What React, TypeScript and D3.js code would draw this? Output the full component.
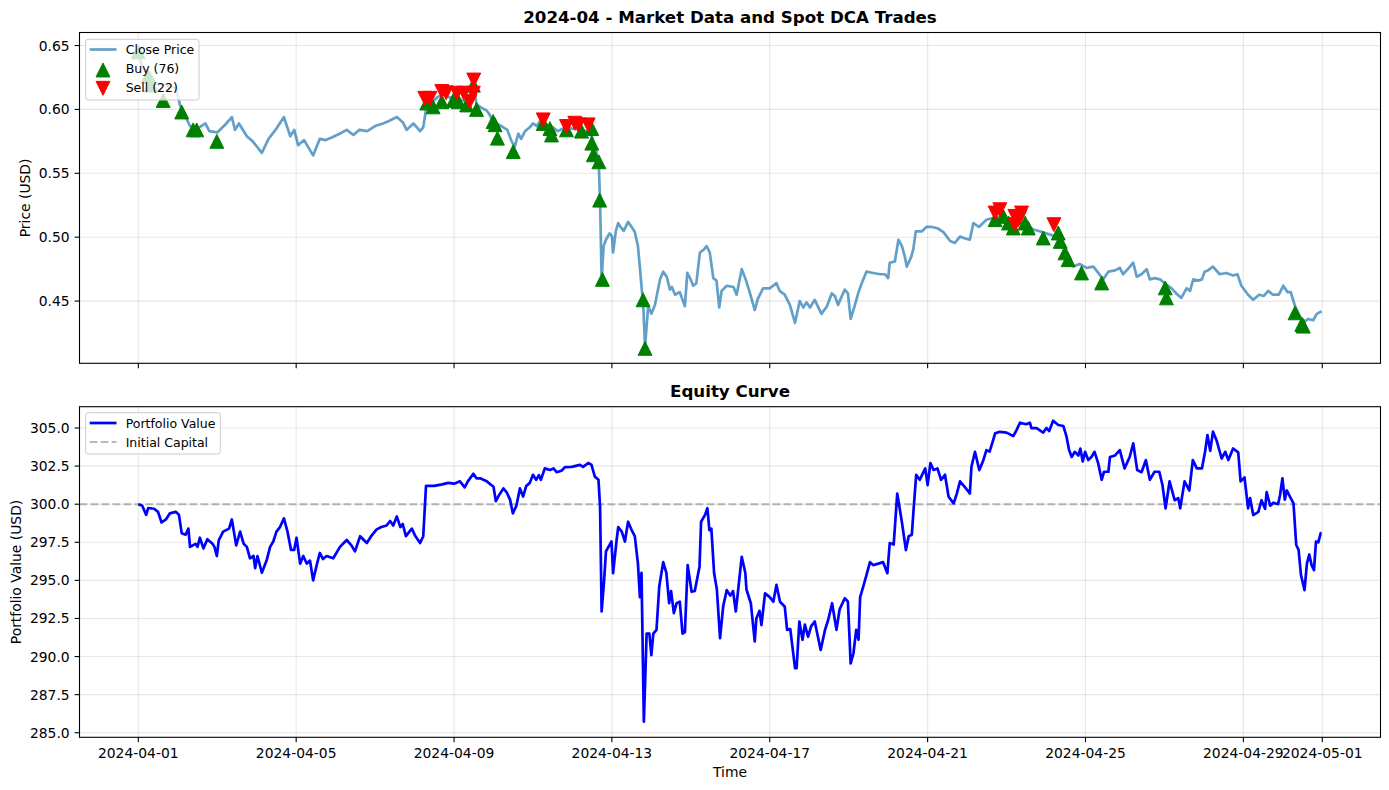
import React from 'react';
import * as d3 from 'd3';

// [day offset from 2024-04-01 00:00, value]
const closePrice: [number, number][] = [
  [0, 0.643], [0.12, 0.632], [0.3, 0.628], [0.45, 0.62], [0.7, 0.619], [0.95, 0.617], [1.06, 0.603], [1.2, 0.594],
  [1.31, 0.587], [1.5, 0.585], [1.7, 0.589], [1.8, 0.583], [2.0, 0.582], [2.2, 0.588], [2.37, 0.594], [2.45, 0.584],
  [2.55, 0.589], [2.75, 0.579], [2.9, 0.575], [3.13, 0.566], [3.3, 0.577], [3.5, 0.585], [3.69, 0.594], [3.85, 0.579],
  [3.95, 0.584], [4.05, 0.572], [4.2, 0.576], [4.43, 0.564], [4.6, 0.577], [4.75, 0.576], [4.9, 0.578], [5.1, 0.581],
  [5.28, 0.584], [5.45, 0.58], [5.6, 0.584], [5.8, 0.583], [6.0, 0.587], [6.2, 0.589], [6.35, 0.591], [6.55, 0.594],
  [6.7, 0.59], [6.8, 0.584], [6.97, 0.589], [7.14, 0.583], [7.22, 0.586], [7.31, 0.604], [7.45, 0.606], [7.6, 0.61],
  [7.75, 0.612], [7.9, 0.609], [8.05, 0.611], [8.2, 0.607], [8.35, 0.606], [8.49, 0.62], [8.57, 0.604], [8.66, 0.602],
  [8.83, 0.599], [8.9, 0.596], [9.0, 0.59], [9.13, 0.588], [9.25, 0.586], [9.35, 0.584], [9.46, 0.575], [9.54, 0.571],
  [9.63, 0.581], [9.7, 0.577], [9.8, 0.583], [9.92, 0.586], [10.0, 0.589], [10.1, 0.587], [10.18, 0.591], [10.35, 0.588],
  [10.5, 0.586], [10.63, 0.583], [10.75, 0.585], [10.85, 0.586], [11.0, 0.585], [11.19, 0.584], [11.36, 0.583], [11.49, 0.579],
  [11.6, 0.568], [11.67, 0.555], [11.7, 0.529], [11.74, 0.467], [11.79, 0.493], [11.85, 0.498], [11.94, 0.503], [12.0, 0.501],
  [12.03, 0.488], [12.1, 0.505], [12.16, 0.511], [12.22, 0.508], [12.3, 0.505], [12.41, 0.512], [12.5, 0.508], [12.58, 0.504],
  [12.66, 0.493], [12.71, 0.476], [12.76, 0.458], [12.79, 0.449], [12.84, 0.415], [12.92, 0.446], [13.0, 0.44], [13.09, 0.447],
  [13.22, 0.467], [13.3, 0.473], [13.39, 0.469], [13.47, 0.459], [13.52, 0.461], [13.6, 0.455], [13.72, 0.457], [13.85, 0.446],
  [13.91, 0.472], [13.98, 0.468], [14.06, 0.462], [14.14, 0.464], [14.23, 0.488], [14.32, 0.49], [14.4, 0.493], [14.48, 0.488],
  [14.57, 0.468], [14.65, 0.466], [14.72, 0.445], [14.78, 0.458], [14.91, 0.462], [15.08, 0.461], [15.16, 0.455], [15.29, 0.475],
  [15.4, 0.466], [15.5, 0.456], [15.62, 0.443], [15.7, 0.452], [15.83, 0.46], [16.0, 0.46], [16.17, 0.464], [16.25, 0.458],
  [16.38, 0.455], [16.51, 0.447], [16.64, 0.433], [16.76, 0.45], [16.85, 0.445], [16.93, 0.449], [17.02, 0.445], [17.14, 0.451],
  [17.31, 0.44], [17.45, 0.446], [17.57, 0.456], [17.65, 0.454], [17.73, 0.447], [17.9, 0.459], [17.98, 0.456], [18.05, 0.436],
  [18.15, 0.446], [18.24, 0.456], [18.33, 0.464], [18.45, 0.473], [18.62, 0.472], [18.8, 0.471], [18.92, 0.471], [19.0, 0.468],
  [19.04, 0.48], [19.17, 0.481], [19.26, 0.498], [19.35, 0.493], [19.42, 0.485], [19.47, 0.477], [19.59, 0.485], [19.64, 0.491],
  [19.7, 0.5045], [19.85, 0.5045], [19.97, 0.508], [20.1, 0.508], [20.25, 0.507], [20.4, 0.504], [20.57, 0.497], [20.69, 0.4955],
  [20.82, 0.5005], [20.95, 0.499], [21.07, 0.498], [21.16, 0.511], [21.3, 0.508], [21.49, 0.5137], [21.65, 0.515], [21.83, 0.516],
  [21.95, 0.513], [22.1, 0.512], [22.3, 0.511], [22.45, 0.511], [22.68, 0.506], [22.9, 0.504], [23.1, 0.502], [23.31, 0.5],
  [23.44, 0.493], [23.54, 0.482], [23.69, 0.477], [23.85, 0.479], [24.03, 0.476], [24.2, 0.477], [24.3, 0.473], [24.45, 0.467],
  [24.58, 0.473], [24.75, 0.474], [24.87, 0.476], [24.95, 0.471], [25.1, 0.476], [25.21, 0.48], [25.3, 0.469], [25.42, 0.471],
  [25.55, 0.475], [25.63, 0.467], [25.75, 0.468], [25.89, 0.467], [26.0, 0.464], [26.18, 0.46], [26.3, 0.456], [26.43, 0.4525],
  [26.56, 0.46], [26.65, 0.458], [26.73, 0.467], [26.85, 0.466], [26.95, 0.467], [27.02, 0.473], [27.1, 0.474], [27.23, 0.477],
  [27.4, 0.471], [27.57, 0.472], [27.74, 0.47], [27.85, 0.471], [27.95, 0.462], [28.12, 0.455], [28.25, 0.451], [28.4, 0.455],
  [28.52, 0.454], [28.63, 0.458], [28.75, 0.455], [28.9, 0.455], [29.01, 0.462], [29.12, 0.457], [29.2, 0.457], [29.31, 0.446],
  [29.43, 0.438], [29.56, 0.434], [29.64, 0.436], [29.77, 0.435], [29.86, 0.44], [29.98, 0.442],
];

const portfolioValue: [number, number][] = [
  [0, 300.0], [0.1, 299.9], [0.2, 299.3], [0.25, 299.75], [0.4, 299.7], [0.5, 299.5], [0.59, 298.8], [0.7, 299.0],
  [0.8, 299.4], [0.95, 299.5], [1.03, 299.3], [1.1, 298.1], [1.2, 298.0], [1.27, 298.4], [1.31, 297.2], [1.45, 297.4],
  [1.5, 297.2], [1.56, 297.8], [1.65, 297.1], [1.75, 297.7], [1.88, 297.4], [1.93, 297.2], [1.99, 296.6], [2.04, 297.65],
  [2.15, 298.2], [2.3, 298.4], [2.37, 299.0], [2.48, 297.3], [2.58, 298.2], [2.67, 297.4], [2.75, 297.2], [2.83, 296.45],
  [2.92, 296.6], [2.96, 295.8], [3.02, 296.6], [3.13, 295.5], [3.25, 296.3], [3.34, 297.2], [3.42, 297.55], [3.5, 298.2],
  [3.59, 298.5], [3.69, 299.07], [3.78, 298.2], [3.87, 297.0], [3.95, 297.0], [4.01, 297.8], [4.1, 296.1], [4.18, 296.6],
  [4.27, 296.1], [4.35, 296.3], [4.43, 295.0], [4.52, 296.0], [4.6, 296.8], [4.68, 296.4], [4.77, 296.6], [4.94, 296.45],
  [5.11, 297.2], [5.28, 297.65], [5.4, 297.3], [5.49, 296.9], [5.62, 297.9], [5.79, 297.45], [5.9, 297.9], [6.04, 298.35],
  [6.16, 298.5], [6.29, 298.6], [6.38, 298.9], [6.46, 298.6], [6.55, 299.2], [6.64, 298.5], [6.7, 298.7], [6.78, 297.9],
  [6.93, 298.4], [7.01, 297.95], [7.14, 297.45], [7.22, 297.9], [7.29, 301.2], [7.5, 301.2], [7.7, 301.3], [7.85, 301.4],
  [8.0, 301.35], [8.15, 301.5], [8.27, 301.1], [8.35, 301.5], [8.49, 302.0], [8.57, 301.7], [8.66, 301.7], [8.83, 301.5],
  [9.0, 301.15], [9.06, 300.2], [9.12, 300.5], [9.25, 301.04], [9.33, 300.8], [9.42, 300.3], [9.49, 299.4], [9.58, 299.9],
  [9.67, 301.04], [9.75, 300.5], [9.83, 301.2], [9.92, 301.4], [10.0, 301.93], [10.08, 301.6], [10.15, 301.9], [10.2, 301.6],
  [10.3, 302.35], [10.43, 302.25], [10.52, 302.35], [10.6, 302.1], [10.72, 302.2], [10.81, 302.43], [10.98, 302.45], [11.19, 302.58],
  [11.27, 302.45], [11.4, 302.7], [11.48, 302.6], [11.57, 301.8], [11.66, 301.6], [11.7, 299.85], [11.74, 292.96], [11.8, 294.9],
  [11.85, 296.9], [11.99, 297.55], [12.03, 295.47], [12.12, 297.65], [12.16, 298.5], [12.25, 298.2], [12.33, 297.55], [12.41, 298.85],
  [12.5, 298.3], [12.58, 297.9], [12.66, 296.1], [12.71, 293.9], [12.75, 295.5], [12.81, 285.72], [12.88, 291.5], [12.95, 291.5],
  [13.0, 290.1], [13.05, 291.5], [13.13, 291.75], [13.2, 294.6], [13.3, 296.2], [13.38, 295.5], [13.45, 293.5], [13.5, 294.3],
  [13.57, 292.85], [13.64, 293.5], [13.72, 293.6], [13.79, 291.5], [13.85, 291.6], [13.92, 296.0], [14.02, 294.25], [14.1, 294.3],
  [14.22, 295.9], [14.26, 298.85], [14.36, 299.3], [14.42, 299.74], [14.47, 298.3], [14.52, 298.4], [14.59, 295.47], [14.66, 294.4],
  [14.74, 291.2], [14.82, 293.3], [14.91, 294.36], [15.0, 294.0], [15.07, 294.3], [15.14, 292.96], [15.29, 296.55], [15.38, 295.5],
  [15.41, 294.4], [15.52, 293.5], [15.62, 291.0], [15.66, 292.5], [15.74, 293.0], [15.79, 292.07], [15.88, 294.15], [16.0, 293.9],
  [16.09, 293.6], [16.17, 294.7], [16.26, 293.6], [16.38, 293.27], [16.44, 291.75], [16.52, 291.8], [16.64, 289.24], [16.68, 289.24],
  [16.75, 292.3], [16.83, 291.1], [16.89, 292.1], [16.97, 291.3], [17.05, 292.0], [17.14, 292.3], [17.29, 290.43], [17.4, 291.75],
  [17.48, 292.4], [17.58, 293.5], [17.69, 291.75], [17.77, 293.1], [17.9, 293.83], [17.98, 293.6], [18.05, 289.55], [18.12, 290.2],
  [18.19, 291.75], [18.25, 291.1], [18.29, 293.9], [18.37, 294.6], [18.45, 295.35], [18.54, 296.2], [18.62, 296.0], [18.75, 296.1],
  [18.87, 296.2], [18.98, 295.47], [19.04, 297.45], [19.14, 297.35], [19.23, 300.7], [19.34, 298.96], [19.45, 296.99], [19.52, 297.9],
  [19.6, 298.0], [19.64, 299.5], [19.71, 301.93], [19.8, 301.6], [19.86, 301.93], [19.94, 302.35], [20.0, 301.25], [20.07, 302.7],
  [20.15, 302.25], [20.25, 302.35], [20.34, 301.6], [20.44, 301.93], [20.53, 300.5], [20.66, 300.05], [20.74, 300.7], [20.82, 301.5],
  [20.95, 301.1], [21.07, 300.7], [21.11, 302.46], [21.2, 303.44], [21.31, 302.24], [21.4, 302.8], [21.49, 303.55], [21.57, 303.45],
  [21.63, 303.95], [21.71, 304.65], [21.83, 304.75], [22.0, 304.7], [22.17, 304.47], [22.25, 304.85], [22.34, 305.35], [22.5, 305.25],
  [22.59, 305.35], [22.63, 305.0], [22.76, 305.0], [22.93, 304.7], [23.01, 305.0], [23.08, 304.8], [23.18, 305.48], [23.31, 305.2],
  [23.44, 305.13], [23.52, 304.43], [23.58, 303.6], [23.65, 303.1], [23.73, 303.44], [23.82, 303.2], [23.87, 303.65], [23.93, 302.8],
  [23.99, 303.44], [24.07, 302.9], [24.15, 303.1], [24.23, 303.44], [24.32, 302.7], [24.41, 301.6], [24.47, 302.13], [24.58, 302.13],
  [24.62, 303.1], [24.75, 303.2], [24.87, 303.55], [24.99, 302.35], [25.12, 303.1], [25.21, 304.0], [25.31, 302.24], [25.42, 302.1],
  [25.53, 302.9], [25.63, 301.6], [25.75, 302.13], [25.87, 302.13], [25.95, 301.26], [26.03, 299.73], [26.13, 301.5], [26.26, 300.26],
  [26.35, 300.4], [26.4, 299.73], [26.51, 301.5], [26.63, 300.9], [26.72, 302.9], [26.82, 302.35], [26.95, 302.35], [27.03, 303.44],
  [27.09, 304.54], [27.16, 303.5], [27.23, 304.76], [27.32, 304.2], [27.45, 303.0], [27.54, 303.44], [27.62, 302.9], [27.74, 303.66],
  [27.87, 303.4], [27.93, 301.5], [28.03, 301.75], [28.12, 299.73], [28.17, 300.4], [28.25, 299.29], [28.38, 299.5], [28.46, 300.26],
  [28.55, 299.7], [28.59, 300.8], [28.68, 299.9], [28.76, 300.1], [28.88, 300.0], [28.93, 300.6], [28.99, 301.7], [29.05, 300.3],
  [29.1, 300.9], [29.18, 300.5], [29.27, 300.05], [29.34, 297.32], [29.4, 297.0], [29.46, 295.35], [29.55, 294.36], [29.61, 296.1],
  [29.67, 296.7], [29.73, 296.0], [29.79, 295.67], [29.84, 297.54], [29.9, 297.5], [29.96, 298.1], [29.98, 298.1],
];

const buyTrades: [number, number][] = [
  [0, 0.645], [0.25, 0.626], [0.32, 0.619], [0.63, 0.607], [1.1, 0.598], [1.39, 0.584], [1.48, 0.584], [1.99, 0.575],
  [7.31, 0.605], [7.47, 0.602], [7.69, 0.606], [7.98, 0.607], [8.11, 0.606], [8.32, 0.6035], [8.49, 0.619], [8.57, 0.6],
  [8.99, 0.5905], [9.04, 0.588], [9.1, 0.5775], [9.5, 0.567], [10.26, 0.589], [10.43, 0.585], [10.47, 0.58], [10.85, 0.584],
  [11.23, 0.583], [11.49, 0.585], [11.49, 0.5736], [11.53, 0.5645], [11.67, 0.559], [11.69, 0.529], [11.76, 0.467],
  [12.79, 0.451], [12.84, 0.413],
  [21.71, 0.5137], [21.92, 0.5163], [22.05, 0.5111], [22.17, 0.5072], [22.47, 0.5111], [22.55, 0.5072], [22.93, 0.4994],
  [23.31, 0.5033], [23.36, 0.4967], [23.48, 0.4877], [23.56, 0.4824], [23.9, 0.472], [24.41, 0.4642], [26.02, 0.4603],
  [26.05, 0.4525], [29.31, 0.4408], [29.48, 0.4317], [29.52, 0.4304],
];

const sellTrades: [number, number][] = [
  [7.26, 0.6087], [7.39, 0.6087], [7.69, 0.614], [7.8, 0.613], [8.07, 0.6127], [8.25, 0.6127], [8.4, 0.6061], [8.49, 0.6127],
  [8.5, 0.623], [10.26, 0.5918], [10.85, 0.5866], [11.06, 0.5892], [11.15, 0.5879], [11.4, 0.5879],
  [21.71, 0.5189], [21.83, 0.5215], [22.21, 0.5163], [22.3, 0.5137], [22.34, 0.516], [22.38, 0.5189], [22.21, 0.5098], [23.2, 0.5098],
];

const priceTicks = [0.45, 0.5, 0.55, 0.6, 0.65];
const valueTicks = [285, 287.5, 290, 292.5, 295, 297.5, 300, 302.5, 305];
const dateTicks = ['2024-04-01', '2024-04-05', '2024-04-09', '2024-04-13', '2024-04-17', '2024-04-21', '2024-04-25', '2024-04-29', '2024-05-01'];
const initialCapital = 300;
const buyLabel = 'Buy (76)';
const sellLabel = 'Sell (22)';

const FONT = 'DejaVu Sans, Liberation Sans, sans-serif';
const T0 = new Date(2024, 3, 1).getTime();
const dayToDate = (d: number) => new Date(T0 + d * 86400000);
const parseDate = (s: string) => {
  const [y, m, d] = s.split('-').map(Number);
  return new Date(y, m - 1, d);
};

const L = 79.5, R = 1380.5;
const top1 = 32.5, bot1 = 363.3;
const top2 = 406.7, bot2 = 737.3;
const MS = 13.9;

const triUp = `M0,${-MS / 2}L${-MS / 2},${MS / 2}L${MS / 2},${MS / 2}Z`;
const triDown = `M0,${MS / 2}L${-MS / 2},${-MS / 2}L${MS / 2},${-MS / 2}Z`;

export default function App() {
  const x = d3.scaleTime().domain([dayToDate(-1.49), dayToDate(31.475)]).range([L, R]);
  const yP = d3.scaleLinear().domain([0.4013, 0.6602]).range([bot1, top1]);
  const yV = d3.scaleLinear().domain([284.7, 306.4]).range([bot2, top2]);

  const priceLine = d3.line<[number, number]>().x(d => x(dayToDate(d[0]))).y(d => yP(d[1]));
  const valueLine = d3.line<[number, number]>().x(d => x(dayToDate(d[0]))).y(d => yV(d[1]));

  const grid = '#b0b0b0';
  const tickLen = 4.9;
  const dates = dateTicks.map(parseDate);

  const axesFrame = (t: number, b: number) => (
    <rect x={L} y={t} width={R - L} height={b - t} fill="none" stroke="#000" strokeWidth={1.1} />
  );

  const xGrid = (t: number, b: number) =>
    dates.map((d, i) => (
      <g key={i}>
        <line x1={x(d)} x2={x(d)} y1={t} y2={b} stroke={grid} strokeOpacity={0.3} strokeWidth={1.1} />
        <line x1={x(d)} x2={x(d)} y1={b} y2={b + tickLen} stroke="#000" strokeWidth={1.1} />
      </g>
    ));

  return (
    <svg width={1389} height={790} style={{ position: 'absolute', left: 0, top: 0, background: '#fff' }} fontFamily={FONT}>
      <rect x={0} y={0} width={1389} height={790} fill="#fff" />

      {/* ===== Top axes ===== */}
      <text x={(L + R) / 2} y={top1 - 9.5} textAnchor="middle" fontSize={16.67} fontWeight="bold">2024-04 - Market Data and Spot DCA Trades</text>
      {xGrid(top1, bot1)}
      {priceTicks.map((v, i) => (
        <g key={i}>
          <line x1={L} x2={R} y1={yP(v)} y2={yP(v)} stroke={grid} strokeOpacity={0.3} strokeWidth={1.1} />
          <line x1={L - tickLen} x2={L} y1={yP(v)} y2={yP(v)} stroke="#000" strokeWidth={1.1} />
          <text x={L - 9.8} y={yP(v)} dy="0.36em" textAnchor="end" fontSize={13.89}>{v.toFixed(2)}</text>
        </g>
      ))}
      <text transform={`translate(30,${(top1 + bot1) / 2}) rotate(-90)`} textAnchor="middle" fontSize={13.89}>Price (USD)</text>
      <path d={priceLine(closePrice) || ''} fill="none" stroke="#1f77b4" strokeOpacity={0.7} strokeWidth={2.7} strokeLinejoin="round" />
      {buyTrades.map((d, i) => (
        <path key={'b' + i} d={triUp} transform={`translate(${x(dayToDate(d[0]))},${yP(d[1])})`} fill="#008000" stroke="#008000" strokeWidth={1} />
      ))}
      {sellTrades.map((d, i) => (
        <path key={'s' + i} d={triDown} transform={`translate(${x(dayToDate(d[0]))},${yP(d[1])})`} fill="#ff0000" stroke="#ff0000" strokeWidth={1} />
      ))}
      {axesFrame(top1, bot1)}
      {/* legend top */}
      <g>
        <rect x={85.7} y={39.3} width={113.3} height={60.7} rx={2.5} fill="#fff" fillOpacity={0.8} stroke="#cccccc" strokeWidth={1} />
        <line x1={89.7} x2={116.5} y1={49.5} y2={49.5} stroke="#1f77b4" strokeOpacity={0.7} strokeWidth={2.7} />
        <text x={125.7} y={49.5} dy="0.36em" fontSize={12.5}>Close Price</text>
        <path d={triUp} transform="translate(103,70)" fill="#008000" stroke="#008000" strokeWidth={1} />
        <text x={125.7} y={68.8} dy="0.36em" fontSize={12.5}>{buyLabel}</text>
        <path d={triDown} transform="translate(103,88.3)" fill="#ff0000" stroke="#ff0000" strokeWidth={1} />
        <text x={125.7} y={87.6} dy="0.36em" fontSize={12.5}>{sellLabel}</text>
      </g>

      {/* ===== Bottom axes ===== */}
      <text x={(L + R) / 2} y={top2 - 9.5} textAnchor="middle" fontSize={16.67} fontWeight="bold">Equity Curve</text>
      {xGrid(top2, bot2)}
      {valueTicks.map((v, i) => (
        <g key={i}>
          <line x1={L} x2={R} y1={yV(v)} y2={yV(v)} stroke={grid} strokeOpacity={0.3} strokeWidth={1.1} />
          <line x1={L - tickLen} x2={L} y1={yV(v)} y2={yV(v)} stroke="#000" strokeWidth={1.1} />
          <text x={L - 9.8} y={yV(v)} dy="0.36em" textAnchor="end" fontSize={13.89}>{v.toFixed(1)}</text>
        </g>
      ))}
      {dates.map((d, i) => (
        <text key={i} x={x(d)} y={757.5} textAnchor="middle" fontSize={13.89}>{dateTicks[i]}</text>
      ))}
      <text x={(L + R) / 2} y={777} textAnchor="middle" fontSize={13.89}>Time</text>
      <text transform={`translate(21,${(top2 + bot2) / 2}) rotate(-90)`} textAnchor="middle" fontSize={13.89}>Portfolio Value (USD)</text>
      <line x1={L} x2={R} y1={yV(initialCapital)} y2={yV(initialCapital)} stroke="#808080" strokeOpacity={0.55} strokeWidth={2.08} strokeDasharray="7.7,3.3" />
      <path d={valueLine(portfolioValue) || ''} fill="none" stroke="#0000ff" strokeWidth={2.7} strokeLinejoin="round" />
      {axesFrame(top2, bot2)}
      {/* legend bottom */}
      <g>
        <rect x={85.7} y={412.7} width={134.6} height={41.3} rx={2.5} fill="#fff" fillOpacity={0.8} stroke="#cccccc" strokeWidth={1} />
        <line x1={89.7} x2={116.5} y1={423} y2={423} stroke="#0000ff" strokeWidth={2.7} />
        <text x={125.7} y={423} dy="0.36em" fontSize={12.5}>Portfolio Value</text>
        <line x1={89.7} x2={116.5} y1={442} y2={442} stroke="#808080" strokeOpacity={0.55} strokeWidth={2.08} strokeDasharray="7.7,3.3" />
        <text x={125.7} y={442} dy="0.36em" fontSize={12.5}>Initial Capital</text>
      </g>
    </svg>
  );
}
